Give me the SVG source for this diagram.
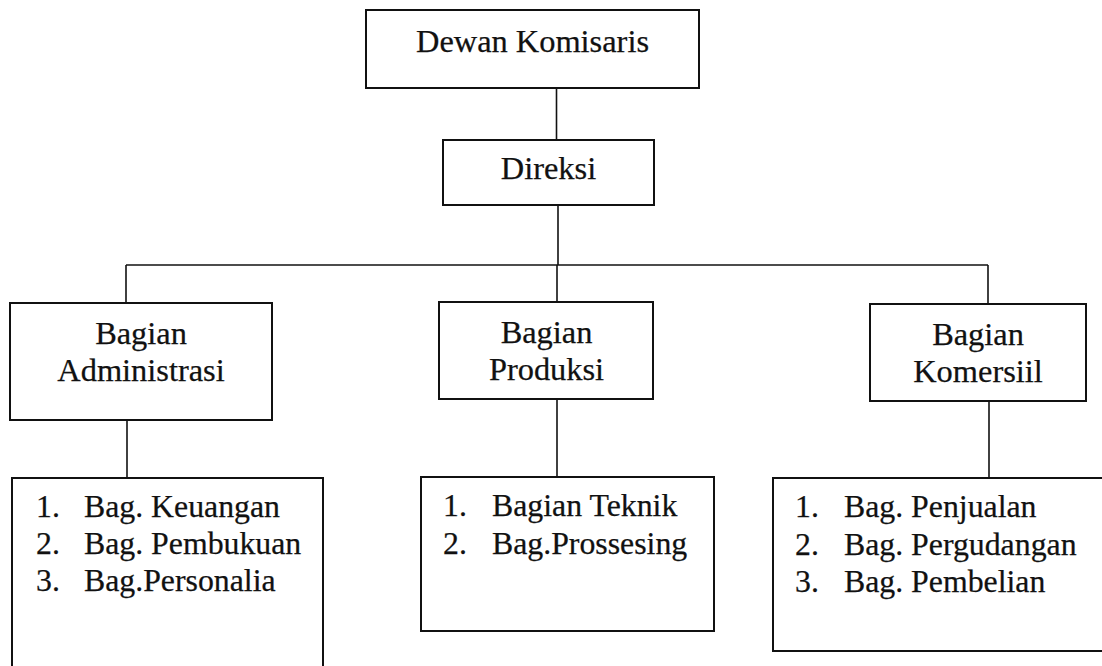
<svg xmlns="http://www.w3.org/2000/svg" width="1102" height="666" viewBox="0 0 1102 666">
<style>
.box{fill:#fff;stroke:#111;stroke-width:2}
.con{fill:none;stroke:#111;stroke-width:1.6}
.t{font-family:"Liberation Serif","Times New Roman",serif;font-size:32.4px;fill:#111;stroke:#111;stroke-width:0.25}
.c{text-anchor:middle}
.l{font-family:"Liberation Serif","Times New Roman",serif;font-size:31.8px;fill:#111;stroke:#111;stroke-width:0.25}
</style>
<rect width="1102" height="666" fill="#fff"/>
<g id="connectors">
<line class="con" x1="556.5" y1="88" x2="556.5" y2="140"/>
<line class="con" x1="558" y1="205" x2="558" y2="265"/>
<line class="con" x1="126" y1="265" x2="988" y2="265"/>
<line class="con" x1="126" y1="265" x2="126" y2="303"/>
<line class="con" x1="557" y1="265" x2="557" y2="302"/>
<line class="con" x1="988" y1="265" x2="988" y2="304"/>
<line class="con" x1="127" y1="420" x2="127" y2="478"/>
<line class="con" x1="557" y1="399" x2="557" y2="477"/>
<line class="con" x1="989" y1="401" x2="989" y2="478"/>
</g>
<g id="dewan">
<rect class="box" x="366" y="10" width="333" height="78"/>
<text class="t c" x="532.5" y="52">Dewan Komisaris</text>
</g>
<g id="direksi">
<rect class="box" x="443" y="140" width="211" height="65"/>
<text class="t c" x="548.5" y="179">Direksi</text>
</g>
<g id="administrasi">
<rect class="box" x="10" y="303" width="262" height="117"/>
<text class="t c" x="141" y="344">Bagian</text>
<text class="t c" x="141" y="381">Administrasi</text>
</g>
<g id="produksi">
<rect class="box" x="439" y="302" width="214" height="97"/>
<text class="t c" x="546.5" y="343">Bagian</text>
<text class="t c" x="546.5" y="380">Produksi</text>
</g>
<g id="komersiil">
<rect class="box" x="870" y="304" width="216" height="97"/>
<text class="t c" x="978" y="345">Bagian</text>
<text class="t c" x="978" y="382">Komersiil</text>
</g>
<g id="list-administrasi">
<rect class="box" x="12" y="478" width="311" height="210"/>
<text class="l" x="36" y="517">1.</text><text class="l" x="84" y="517">Bag. Keuangan</text>
<text class="l" x="36" y="554">2.</text><text class="l" x="84" y="554">Bag. Pembukuan</text>
<text class="l" x="36" y="591">3.</text><text class="l" x="84" y="591">Bag.Personalia</text>
</g>
<g id="list-produksi">
<rect class="box" x="421" y="477" width="293" height="154"/>
<text class="l" x="443" y="516">1.</text><text class="l" x="492" y="516">Bagian Teknik</text>
<text class="l" x="443" y="554">2.</text><text class="l" x="492" y="554">Bag.Prossesing</text>
</g>
<g id="list-komersiil">
<rect class="box" x="773" y="478" width="340" height="173"/>
<text class="l" x="795" y="517">1.</text><text class="l" x="844" y="517">Bag. Penjualan</text>
<text class="l" x="795" y="555">2.</text><text class="l" x="844" y="555">Bag. Pergudangan</text>
<text class="l" x="795" y="592">3.</text><text class="l" x="844" y="592">Bag. Pembelian</text>
</g>
</svg>
